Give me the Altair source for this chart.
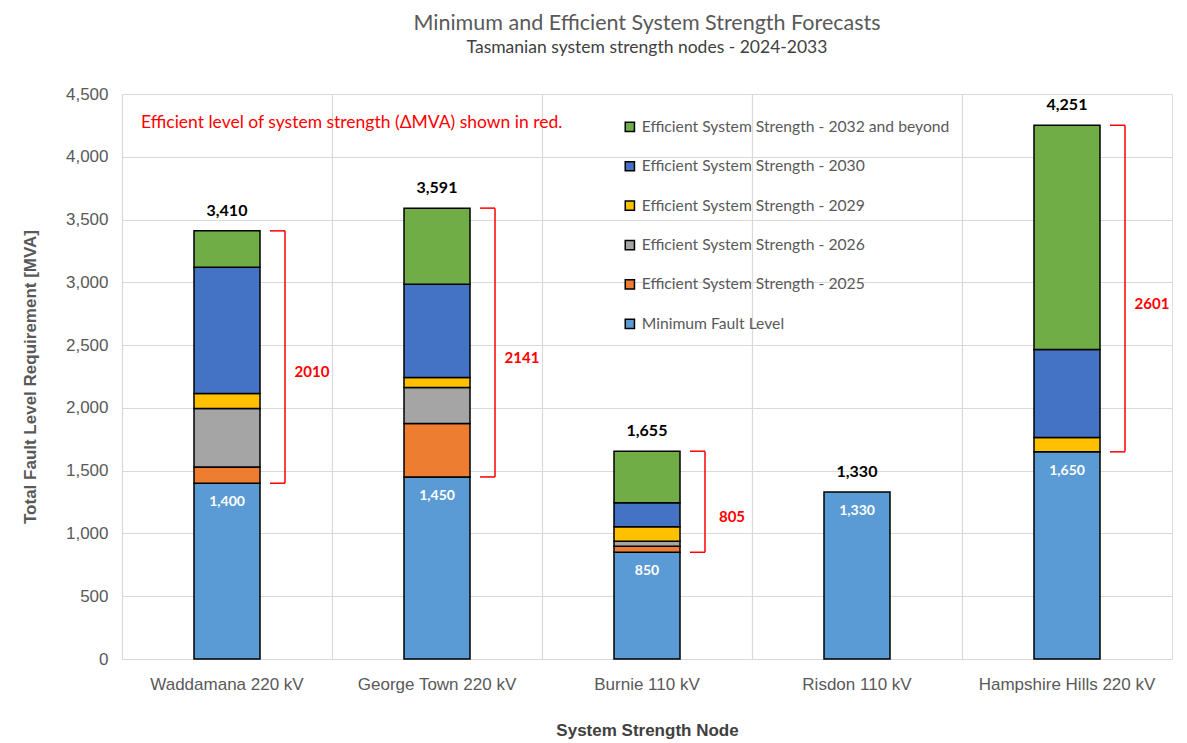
import altair as alt
import pandas as pd

nodes = ["Waddamana 220 kV", "George Town 220 kV", "Burnie 110 kV", "Risdon 110 kV", "Hampshire Hills 220 kV"]
min_fault = [1400, 1450, 850, 1330, 1650]
ess_2025 = [130, 426, 48, 0, 0]
ess_2026 = [465, 287, 40, 0, 0]
ess_2029 = [120, 79, 115, 0, 115]
ess_2030 = [1005, 743, 192, 0, 700]
ess_2032 = [290, 606, 410, 0, 1786]
totals = [3410, 3591, 1655, 1330, 4251]
deltas = [2010, 2141, 805, None, 2601]

series_names = [
    "Minimum Fault Level",
    "Efficient System Strength - 2025",
    "Efficient System Strength - 2026",
    "Efficient System Strength - 2029",
    "Efficient System Strength - 2030",
    "Efficient System Strength - 2032 and beyond",
]
series_colors = ["#5B9BD5", "#ED7D31", "#A5A5A5", "#FFC000", "#4472C4", "#70AD47"]
series_values = [min_fault, ess_2025, ess_2026, ess_2029, ess_2030, ess_2032]

rows = []
for i, node in enumerate(nodes):
    base = 0
    for s, name in enumerate(series_names):
        v = series_values[s][i]
        if v > 0:
            rows.append({"node": node, "series": name, "y0": base, "y1": base + v, "value": v})
        base += v
seg = pd.DataFrame(rows)

lab = pd.DataFrame({"node": nodes, "min": min_fault, "total": totals,
                    "min_txt": [f"{v:,}" for v in min_fault],
                    "total_txt": [f"{v:,}" for v in totals]})

br = pd.DataFrame([
    {"node": n, "lo": m, "hi": t, "mid": (m + t) / 2, "delta": str(d)}
    for n, m, t, d in zip(nodes, min_fault, totals, deltas) if d is not None
])

FONT = "Lato"
legend_order = list(reversed(series_names))
legend_colors = list(reversed(series_colors))

xenc = alt.X("node:N", sort=nodes, title="System Strength Node",
             scale=alt.Scale(paddingInner=0, paddingOuter=0),
             axis=alt.Axis(labelAngle=0, labelFontSize=17, labelColor="#595959", labelPadding=17,
                           titleFontSize=17, titleColor="#404040", titleFontWeight="bold",
                           titlePadding=30, ticks=False, domain=False, grid=True,
                           bandPosition=0, gridColor="#d9d9d9", gridWidth=1.2))
yscale = alt.Scale(domain=[0, 4500], nice=False)
yaxis = alt.Axis(values=list(range(0, 4501, 500)), format=",d", labelFontSize=17, labelColor="#595959",
                 labelPadding=14, title="Total Fault Level Requirement [MVA]", titleFontSize=17,
                 titleColor="#595959", titleFontWeight="bold", titlePadding=26, ticks=False,
                 domain=False, gridColor="#d9d9d9", gridWidth=1.2)

bars = alt.Chart(seg).mark_bar(size=66, stroke="black", strokeWidth=1.5).encode(
    x=xenc,
    y=alt.Y("y0:Q", scale=yscale, axis=yaxis),
    y2="y1:Q",
    color=alt.Color("series:N", scale=alt.Scale(domain=legend_order, range=legend_colors),
                    legend=alt.Legend(title=None, orient="none", legendX=500, legendY=25,
                                      symbolType="square", symbolSize=85, symbolStrokeColor="black",
                                      symbolStrokeWidth=1.5, labelFontSize=15.7, labelColor="#595959",
                                      labelFont=FONT, rowPadding=22.4, labelLimit=400, labelOffset=4)),
)

base_txt = alt.Chart(lab).mark_text(color="white", fontWeight="bold", fontSize=14, dy=19, font=FONT).encode(
    x=alt.X("node:N", sort=nodes), y=alt.Y("min:Q"), text="min_txt:N")
tot_txt = alt.Chart(lab).mark_text(color="black", fontWeight="bold", fontSize=16, dy=-20, font=FONT).encode(
    x=alt.X("node:N", sort=nodes), y=alt.Y("total:Q"), text="total_txt:N")

red = "#FF0000"
vrule = alt.Chart(br).mark_rule(color=red, strokeWidth=1.5, xOffset=58).encode(
    x=alt.X("node:N", sort=nodes), y="lo:Q", y2="hi:Q")
top_tick = alt.Chart(br).mark_rule(color=red, strokeWidth=1.5, xOffset=43, x2Offset=58).encode(
    x=alt.X("node:N", sort=nodes), x2="node:N", y="hi:Q")
bot_tick = alt.Chart(br).mark_rule(color=red, strokeWidth=1.5, xOffset=43, x2Offset=58).encode(
    x=alt.X("node:N", sort=nodes), x2="node:N", y="lo:Q")
delta_txt = alt.Chart(br).mark_text(color=red, fontWeight="bold", fontSize=15, xOffset=85, dy=15, font=FONT).encode(
    x=alt.X("node:N", sort=nodes), y="mid:Q", text="delta:N")

note = alt.Chart(pd.DataFrame({"t": ["Efficient level of system strength (\u0394MVA) shown in red."]})).mark_text(
    color=red, fontSize=17.5, align="left", baseline="middle", font=FONT).encode(
    x=alt.value(19), y=alt.value(29), text="t:N")

chart = alt.layer(bars, base_txt, tot_txt, vrule, top_tick, bot_tick, delta_txt, note).properties(
    width=1050, height=565,
    title=alt.TitleParams("Minimum and Efficient System Strength Forecasts",
                          subtitle="Tasmanian system strength nodes - 2024-2033",
                          fontSize=21.5, fontWeight="normal", color="#595959", subtitleFontSize=17.5,
                          subtitleColor="#404040", font=FONT, subtitleFont=FONT, offset=29,
                          anchor="middle", subtitlePadding=4),
    autosize=alt.AutoSizeParams(type="none"),
    padding={"left": 114, "top": 86, "right": 6, "bottom": 80},
).configure_view(stroke="#8c8c8c", strokeWidth=1.2).configure_axis(labelFont=FONT, titleFont=FONT).configure(
    background="white")

chart.save("out.html", embed_options={"renderer": "svg", "actions": False})
